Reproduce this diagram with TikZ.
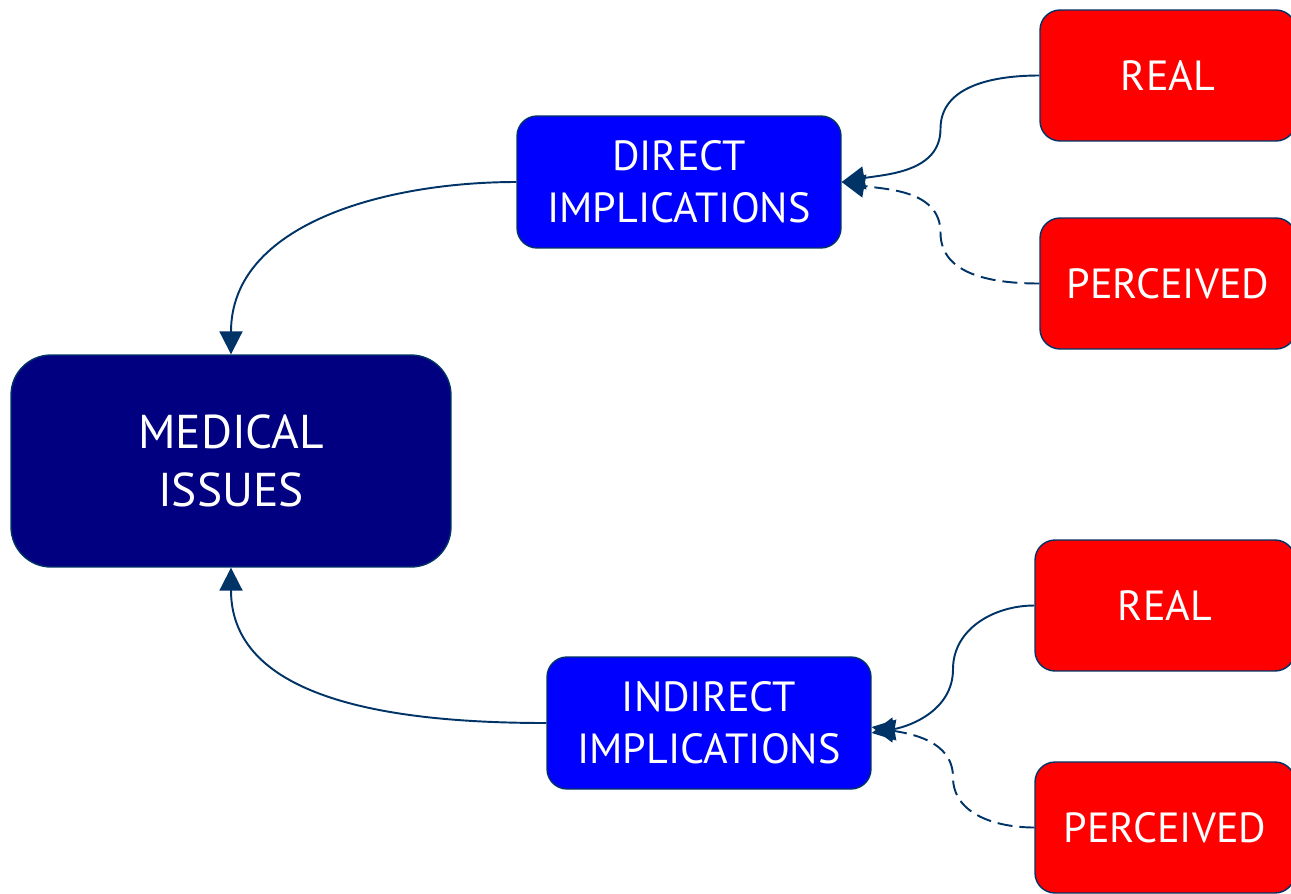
\documentclass[tikz,border=0pt]{standalone}
\usepackage{fontspec}
\setmainfont{PT Sans}
\usetikzlibrary{arrows.meta,calc}

\definecolor{navybox}{HTML}{000080}
\definecolor{bluebox}{HTML}{0000FF}
\definecolor{redbox}{HTML}{FF0000}
\definecolor{edgeblue}{HTML}{003366}

\tikzset{
  box/.style={draw=edgeblue, line width=0.8pt, text=white, align=center,
    inner sep=0pt, font=\fontsize{24}{29.5}\selectfont},
  issuebox/.style={box, fill=navybox, rounded corners=0.8cm,
    minimum width=8.8cm, minimum height=4.24cm,
    font=\fontsize{27}{33}\selectfont},
  implbox/.style={box, fill=bluebox, rounded corners=0.4cm,
    minimum width=6.48cm, minimum height=2.64cm},
  kindbox/.style={box, fill=redbox, rounded corners=0.4cm,
    minimum height=2.62cm},
  link/.style={draw=edgeblue, line width=1.1pt,
    -{Triangle[length=0.46cm,width=0.46cm]}},
  perceivedlink/.style={link, dash pattern=on 0.3cm off 0.14cm}
}

\begin{document}
\begin{tikzpicture}[x=0.02cm,y=-0.02cm]

\useasboundingbox (0,0) rectangle (1291,893);

% Boxes
\node[issuebox] (med) at (231,461) {MEDICAL\\ISSUES};
\node[implbox] (dir) at (679,182) {DIRECT\\IMPLICATIONS};
\node[implbox] (ind) at (709,723) {INDIRECT\\IMPLICATIONS};
\node[kindbox, minimum width=5.12cm] (dirreal) at (1168,75.5) {REAL};
\node[kindbox, minimum width=5.12cm] (dirperc) at (1168,283.5) {PERCEIVED};
\node[kindbox, minimum width=5.2cm] (indreal) at (1165,605.5) {REAL};
\node[kindbox, minimum width=5.2cm] (indperc) at (1165,827.5) {PERCEIVED};

% Implications to issues
\draw[link] (dir.west) to[out=180,in=90] (med.north);
\draw[link] (ind.west) to[out=180,in=-90] (med.south);

% Real / perceived to implications
\draw[link] (dirreal.west) to[out=180,in=90] ($(dirreal.west)!0.5!(dir.east)$)
  to[out=-90,in=10] (dir.east);
\draw[perceivedlink] (dirperc.west) to[out=180,in=-90] ($(dirperc.west)!0.5!(dir.east)$)
  to[out=90,in=-10] (dir.east);
\draw[link] (indreal.west) to[out=180,in=90] ($(indreal.west)!0.5!([yshift=-0.2cm]ind.east)$)
  to[out=-90,in=10] ([yshift=-0.2cm]ind.east);
\draw[perceivedlink] (indperc.west) to[out=180,in=-90] ($(indperc.west)!0.5!([yshift=-0.08cm]ind.east)$)
  to[out=90,in=-10] ([yshift=-0.08cm]ind.east);

\end{tikzpicture}
\end{document}
